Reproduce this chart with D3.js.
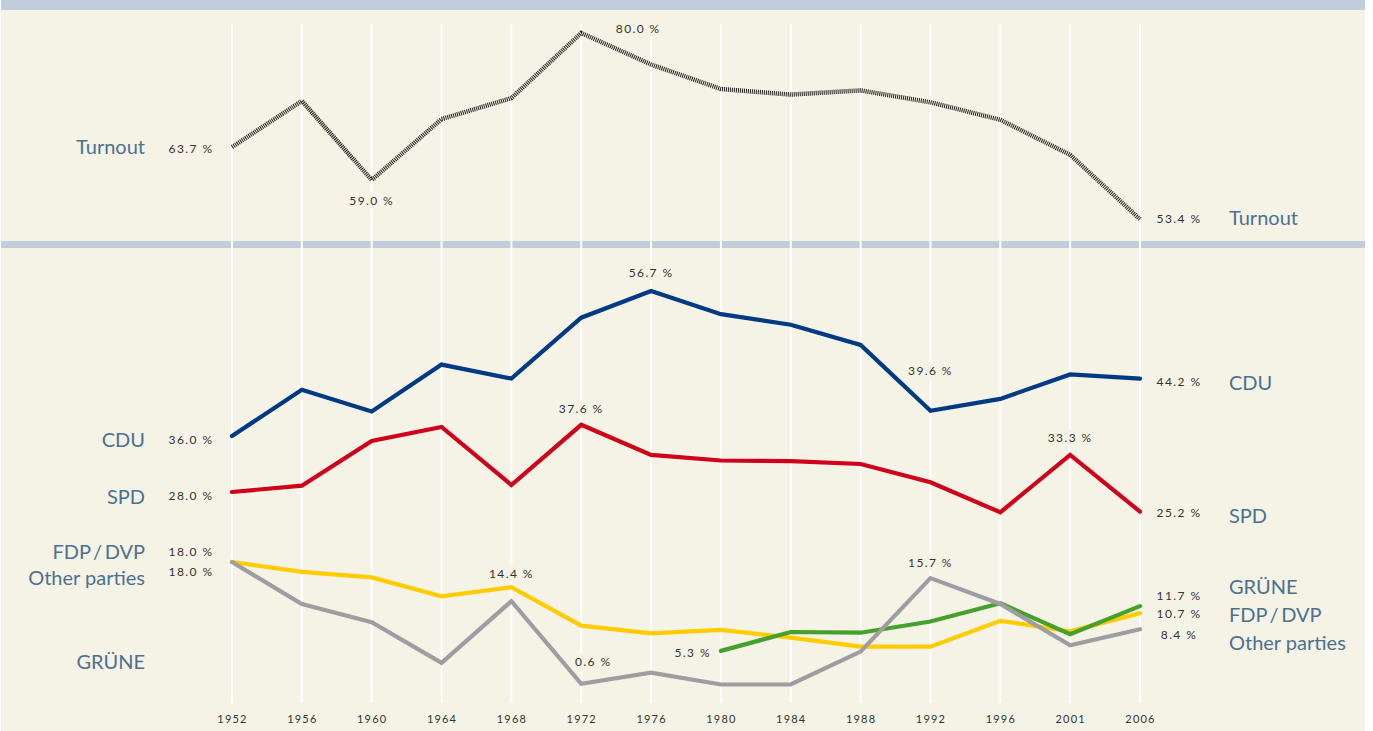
<!DOCTYPE html>
<html>
<head>
<meta charset="utf-8">
<script src="https://cdn.jsdelivr.net/npm/d3@7"></script>
<style>
  html, body { margin: 0; padding: 0; background: #ffffff; }
  svg { display: block; }
  .num { font-family: Lato, 'Open Sans', sans-serif; font-size: 12px; letter-spacing: 1.4px; fill: #333; }
  .name { font-family: Lato, 'Open Sans', sans-serif; font-size: 20px; fill: #4b7191; }
  .tight { word-spacing: -2.5px; }
  .year { font-family: Lato, 'Open Sans', sans-serif; font-size: 11px; letter-spacing: 1.2px; fill: #333; }
</style>
</head>
<body>
<div id="chart"></div>
<script>
  // 선거 연도
  const years = ['1952', '1956', '1960', '1964', '1968', '1972', '1976', '1980',
                 '1984', '1988', '1992', '1996', '2001', '2006'];

  // 투표율
  const turnout = [63.7, 70.3, 59.0, 67.7, 70.7, 80.0, 75.5, 72.0, 71.2, 71.8, 70.1, 67.6, 62.6, 53.4];

  // 정당별 득표율
  const cdu    = [36.0, 42.6, 39.5, 46.2, 44.2, 52.9, 56.7, 53.4, 51.9, 49.0, 39.6, 41.3, 44.8, 44.2];
  const spd    = [28.0, 28.9, 35.3, 37.3, 29.0, 37.6, 33.3, 32.5, 32.4, 32.0, 29.4, 25.1, 33.3, 25.2];
  const fdp    = [18.0, 16.6, 15.8, 13.1, 14.4, 8.9, 7.8, 8.3, 7.2, 5.9, 5.9, 9.6, 8.1, 10.7];
  const others = [18.0, 12.0, 9.4, 3.6, 12.4, 0.6, 2.2, 0.5, 0.5, 5.2, 15.7, 12.0, 6.1, 8.4];
  const gruene = [null, null, null, null, null, null, null, 5.3, 8.0, 7.9, 9.5, 12.1, 7.7, 11.7];

  const W = 1373, H = 731;
  const BG = '#f5f3e5';
  const BAND = '#c2cddb';

  const svg = d3.select('#chart').append('svg')
    .attr('width', W).attr('height', H);

  // 배경
  svg.append('rect').attr('x', 1).attr('y', 0).attr('width', 1364).attr('height', H).attr('fill', BG);
  svg.append('rect').attr('x', 1).attr('y', 0).attr('width', 1364).attr('height', 10).attr('fill', BAND);
  svg.append('rect').attr('x', 1).attr('y', 241).attr('width', 1364).attr('height', 7).attr('fill', BAND);

  // 스케일
  const x = d3.scalePoint().domain(years).range([232, 1140]);
  const yTop = d3.scaleLinear().domain([50, 80]).range([243, 33]);
  const yBot = d3.scaleLinear().domain([0, 60]).range([688, 268]);

  // 세로 격자선
  svg.append('g')
    .selectAll('line')
    .data(years)
    .enter()
    .append('line')
    .attr('x1', d => x(d)).attr('x2', d => x(d))
    .attr('y1', 24).attr('y2', 703)
    .attr('stroke', '#ffffff')
    .attr('stroke-width', 2);

  // X축 (연도)
  const xAxis = svg.append('g')
    .attr('transform', 'translate(0,719)')
    .call(d3.axisBottom(x).tickSize(0).tickPadding(0));
  xAxis.select('.domain').remove();
  xAxis.selectAll('text')
    .attr('class', 'year')
    .attr('dy', '0.35em')
    .attr('font-family', null).attr('font-size', null).attr('fill', null);

  // 투표율 선 (해치 스타일)
  const lineTop = d3.line()
    .x((d, i) => x(years[i]))
    .y(d => yTop(d));

  svg.append('path')
    .datum(turnout)
    .attr('fill', 'none')
    .attr('stroke', '#2e2e2e')
    .attr('stroke-width', 4.5)
    .attr('stroke-dasharray', '1.1,0.9')
    .attr('d', lineTop);

  // 정당 선
  const lineBot = d3.line()
    .defined(d => d !== null)
    .x((d, i) => x(years[i]))
    .y(d => yBot(d));

  const parties = [
    { values: fdp, color: '#ffcc00' },
    { values: gruene, color: '#46a12c' },
    { values: others, color: '#9e9ea2' },
    { values: spd, color: '#d0021b' },
    { values: cdu, color: '#003a84' }
  ];

  svg.append('g')
    .selectAll('path')
    .data(parties)
    .enter()
    .append('path')
    .attr('fill', 'none')
    .attr('stroke', d => d.color)
    .attr('stroke-width', 4.2)
    .attr('stroke-linejoin', 'miter')
    .attr('stroke-linecap', 'round')
    .attr('d', d => lineBot(d.values));

  const fmt = v => `${v.toFixed(1)} %`;

  // 배경 박스가 있는 값 라벨
  function numLabel(px, py, text, anchor, boxed) {
    const t = svg.append('text')
      .attr('class', 'num')
      .attr('x', px).attr('y', py)
      .attr('dominant-baseline', 'central')
      .attr('text-anchor', anchor || 'middle')
      .text(text);
    if (boxed) {
      const b = t.node().getBBox();
      svg.insert('rect', () => t.node())
        .attr('x', b.x - 2).attr('y', b.y - 1)
        .attr('width', b.width + 4).attr('height', b.height + 2)
        .attr('fill', BG);
    }
  }

  function nameLabel(px, py, text, anchor) {
    svg.append('text')
      .attr('class', text.includes('/') ? 'name tight' : 'name')
      .attr('x', px).attr('y', py)
      .attr('dominant-baseline', 'central')
      .attr('text-anchor', anchor)
      .text(text);
  }

  const first = 0, last = years.length - 1;
  const xL = x(years[first]) - 41, xR = x(years[last]) + 39;

  // 투표율 주석
  numLabel(xL, yTop(turnout[first]) + 1, fmt(turnout[first]));
  numLabel(xR, yTop(turnout[last]) - 1, fmt(turnout[last]));
  numLabel(x('1960'), yTop(turnout[2]) + 20, fmt(turnout[2]), 'middle', true);
  numLabel(x('1972') + 57, yTop(turnout[5]) - 5, fmt(turnout[5]), 'middle', true);

  // 시작값
  numLabel(xL, yBot(cdu[first]) + 3, fmt(cdu[first]));
  numLabel(xL, yBot(spd[first]) + 3, fmt(spd[first]));
  numLabel(xL, yBot(fdp[first]) - 11, fmt(fdp[first]));
  numLabel(xL, yBot(others[first]) + 9, fmt(others[first]));

  // 마지막 값
  numLabel(xR, yBot(cdu[last]) + 3, fmt(cdu[last]));
  numLabel(xR, yBot(spd[last]) + 1, fmt(spd[last]));
  numLabel(xR, yBot(gruene[last]) - 11, fmt(gruene[last]));
  numLabel(xR, yBot(fdp[last]), fmt(fdp[last]));
  numLabel(xR, yBot(others[last]) + 5, fmt(others[last]));

  // 중간 주석
  numLabel(x('1976'), yBot(cdu[6]) - 19, fmt(cdu[6]), 'middle', true);
  numLabel(x('1992'), yBot(cdu[10]) - 40, fmt(cdu[10]), 'middle', true);
  numLabel(x('1972'), yBot(spd[5]) - 16, fmt(spd[5]), 'middle', true);
  numLabel(x('2001'), yBot(spd[12]) - 17, fmt(spd[12]), 'middle', true);
  numLabel(x('1968'), yBot(fdp[4]) - 14, fmt(fdp[4]), 'middle', true);
  numLabel(x('1972') + 12, yBot(others[5]) - 22, fmt(others[5]), 'middle', true);
  numLabel(x('1992'), yBot(others[10]) - 16, fmt(others[10]), 'middle', true);
  numLabel(x('1980') - 10, yBot(gruene[7]) + 2, fmt(gruene[7]), 'end', true);

  // 시리즈 이름 (왼쪽)
  nameLabel(145, 146, 'Turnout', 'end');
  nameLabel(145, 439, 'CDU', 'end');
  nameLabel(145, 496, 'SPD', 'end');
  nameLabel(145, 551, 'FDP / DVP', 'end');
  nameLabel(145, 577, 'Other parties', 'end');
  nameLabel(145, 661, 'GRÜNE', 'end');

  // 시리즈 이름 (오른쪽)
  nameLabel(1229, 217, 'Turnout', 'start');
  nameLabel(1229, 382, 'CDU', 'start');
  nameLabel(1229, 515, 'SPD', 'start');
  nameLabel(1229, 586, 'GRÜNE', 'start');
  nameLabel(1229, 614, 'FDP / DVP', 'start');
  nameLabel(1229, 642, 'Other parties', 'start');
</script>
</body>
</html>
